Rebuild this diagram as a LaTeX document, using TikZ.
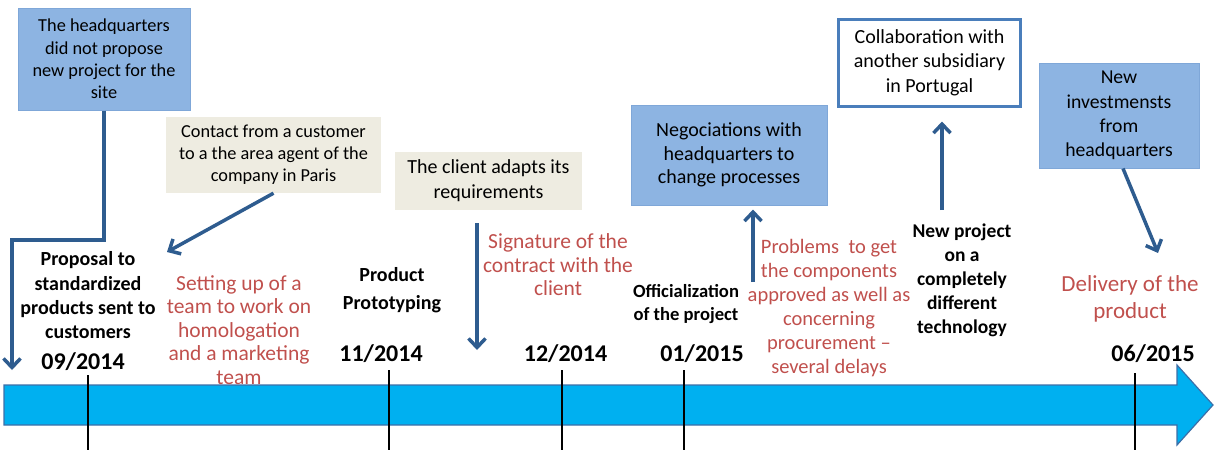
\documentclass[tikz,border=0pt]{standalone}
\usepackage{fontspec}
\setmainfont{Carlito}
\usetikzlibrary{arrows.meta}
\definecolor{boxblue}{HTML}{8DB4E2}
\definecolor{boxblueline}{HTML}{7FA7D8}
\definecolor{beige}{HTML}{EEECE1}
\definecolor{redtxt}{HTML}{C0504D}
\definecolor{arrowblue}{HTML}{2E5C8F}
\definecolor{barfill}{HTML}{00B0F0}
\definecolor{barline}{HTML}{3C6FA8}
\definecolor{frameblue}{HTML}{4A7EBB}
\begin{document}
\begin{tikzpicture}[x=1pt,y=-1pt,
  bluebox/.style={draw=boxblueline, fill=boxblue, line width=1pt, align=center, inner sep=0pt},
  beigebox/.style={fill=beige, align=center, inner sep=0pt},
  framebox/.style={draw=frameblue, fill=white, line width=3pt, align=center, inner sep=0pt},
  conn/.style={draw=arrowblue, line width=3.5pt, -{Straight Barb[length=9pt,width=17pt]}},
  blklbl/.style={align=center, inner sep=0pt, text=black},
  redlbl/.style={align=center, inner sep=0pt, text=redtxt},
  datelbl/.style={inner sep=0pt, font=\fontsize{24}{28}\selectfont\bfseries},
  tick/.style={draw=black, line width=1.2pt}
]
\useasboundingbox (0,0) rectangle (1215,450);

% timeline bar
\draw[draw=barline, fill=barfill, line width=1.2pt]
  (4,385) -- (1177,385) -- (1177,365) -- (1213,405) -- (1177,445) -- (1177,425) -- (4,425) -- cycle;
\foreach \tx/\ty in {88/375, 389/370, 562/370, 684/370, 1135/373}
  \draw[tick] (\tx,\ty) -- (\tx,450);

% boxes
\node[bluebox, minimum width=172pt, minimum height=102pt, font=\fontsize{18.3}{22.3}\selectfont]
  (b1) at (104,59) {The headquarters\\did not propose\\new project for the\\site};
\node[beigebox, minimum width=215pt, minimum height=76pt, font=\fontsize{18.3}{22}\selectfont]
  (b2) at (273.5,155) {Contact from a customer\\to a the area agent of the\\company in Paris};
\node[beigebox, minimum width=187pt, minimum height=58pt, font=\fontsize{20}{25}\selectfont]
  (b3) at (488.5,181) {The client adapts its\\requirements};
\node[bluebox, minimum width=196pt, minimum height=100pt, font=\fontsize{20}{23.5}\selectfont]
  (b4) at (729,155) {Negociations with\\headquarters to\\change processes};
\node[framebox, minimum width=182pt, minimum height=87pt, font=\fontsize{20}{24.5}\selectfont]
  (b5) at (929.5,62.5) {Collaboration with\\another subsidiary\\in Portugal};
\node[bluebox, minimum width=160pt, minimum height=105pt, font=\fontsize{19.7}{24.3}\selectfont]
  (b6) at (1119,115.5) {New\\investmensts\\from\\headquarters};

% black labels
\node[blklbl, font=\fontsize{20}{24.3}\selectfont\bfseries] (l1) at (88,295.5)
  {Proposal to\\standardized\\products sent to\\customers};
\node[blklbl, font=\fontsize{20}{28}\selectfont\bfseries] (l2) at (392,290)
  {Product\\Prototyping};
\node[blklbl, font=\fontsize{18.6}{23}\selectfont\bfseries] (l3) at (686,304.5)
  {Officialization\\of the project};
\node[blklbl, font=\fontsize{19.5}{24}\selectfont\bfseries] (l4) at (962,280)
  {New project\\on a\\completely\\different\\technology};

% red labels
\node[redlbl, font=\fontsize{21.5}{23.5}\selectfont] (r1) at (239,330)
  {Setting up of a\\team to work on\\homologation\\and a marketing\\team};
\node[redlbl, font=\fontsize{21.5}{23.5}\selectfont] (r2) at (558,265)
  {Signature of the\\contract with the\\client};
\node[redlbl, font=\fontsize{20.5}{24}\selectfont] (r3) at (829,308)
  {Problems\ \ to get\\the components\\approved as well as\\concerning\\procurement --\\several delays};
\node[redlbl, font=\fontsize{23}{27}\selectfont] (r4) at (1130,298.5)
  {Delivery of the\\product};

% dates
\node[datelbl] (d1) at (83,362) {09/2014};
\node[datelbl] (d2) at (381,354) {11/2014};
\node[datelbl] (d3) at (565.5,354) {12/2014};
\node[datelbl] (d4) at (702,354) {01/2015};
\node[datelbl] (d5) at (1153,354) {06/2015};

% connectors
\coordinate (a1) at (12,370);
\draw[conn] (b1.south) |- (12,240) -- (a1);
\coordinate (a2) at (167,252);
\draw[conn] (b2.south) -- (a2);
\coordinate (s3) at (477,223);
\coordinate (a3) at (477,350);
\draw[conn] (s3) -- (a3);
\coordinate (s4) at (753,282);
\draw[conn, shorten >=4pt] (s4) -- (s4 |- b4.south);
\coordinate (s5) at (942,210);
\draw[conn, shorten >=14pt] (s5) -- (s5 |- b5.south);
\coordinate (a6) at (1158,253);
\draw[conn] ([xshift=4pt]b6.south) -- (a6);
\end{tikzpicture}
\end{document}
